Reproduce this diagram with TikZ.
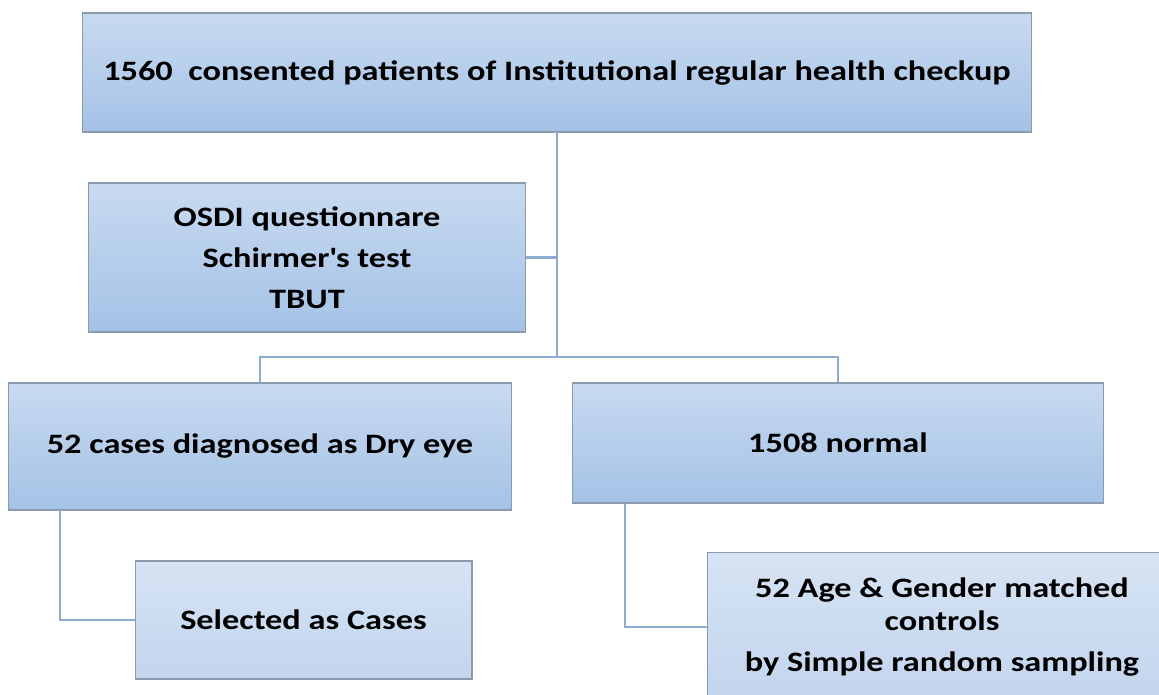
\documentclass[tikz,border=0pt]{standalone}
\usepackage{fontspec}
\setmainfont{Carlito}[FakeStretch = 1.22]
\usetikzlibrary{calc}

\definecolor{boxtop}{HTML}{C8DAF0}
\definecolor{boxbottom}{HTML}{A4C2E6}
\definecolor{paletop}{HTML}{D6E3F3}
\definecolor{palebottom}{HTML}{C2D5EE}
\definecolor{boxline}{HTML}{8A9AAF}
\definecolor{linkline}{HTML}{8FACD0}

\begin{document}
\begin{tikzpicture}[x = 0.02cm, y = -0.02cm,
    stagebox/.style = {shape = rectangle, draw = boxline, line width = 0.6pt,
        top color = boxtop, bottom color = boxbottom, inner sep = 0pt, outer sep = 0pt,
        align = center, font = \fontsize{16}{19.3}\selectfont\bfseries},
    palebox/.style = {stagebox, top color = paletop, bottom color = palebottom},
    link/.style = {draw = linkline, line width = 1.4pt}]
    \useasboundingbox (0,0) rectangle (1159,694);
    \node[stagebox, minimum width = 19cm, minimum height = 2.38cm] (consent) at (557,72.5)
        {1560\ \ consented patients of Institutional regular health checkup};
    \node[stagebox, minimum width = 8.76cm, minimum height = 2.98cm] (tests) at (307,257.5)
        {OSDI questionnare\\[4pt] Schirmer\textquotesingle s test\\[4pt] TBUT};
    \node[stagebox, minimum width = 10.08cm, minimum height = 2.54cm] (dryeye) at (260,446.5)
        {52 cases diagnosed as Dry eye};
    \node[stagebox, minimum width = 10.64cm, minimum height = 2.4cm] (normal) at (838,443)
        {1508 normal};
    \node[palebox, minimum width = 6.74cm, minimum height = 2.36cm] (cases) at (303.5,620)
        {Selected as Cases};
    \node[palebox, minimum width = 9.4cm, minimum height = 3cm] (controls) at (942,627)
        {52 Age \& Gender matched\\ controls\\[4pt] by Simple random sampling};
    \coordinate (split) at (557,357);
    % connectors
    \draw[link] (consent.south) -- (split);
    \draw[link] (tests.east) -- (tests.east -| split);
    \draw[link] (dryeye.north) |- (split) -| (normal.north);
    \draw[link] ($(dryeye.south west)+(52,0)$) |- (cases.west);
    \draw[link] ($(normal.south west)+(53,0)$) |- (controls.west);
\end{tikzpicture}
\end{document}
